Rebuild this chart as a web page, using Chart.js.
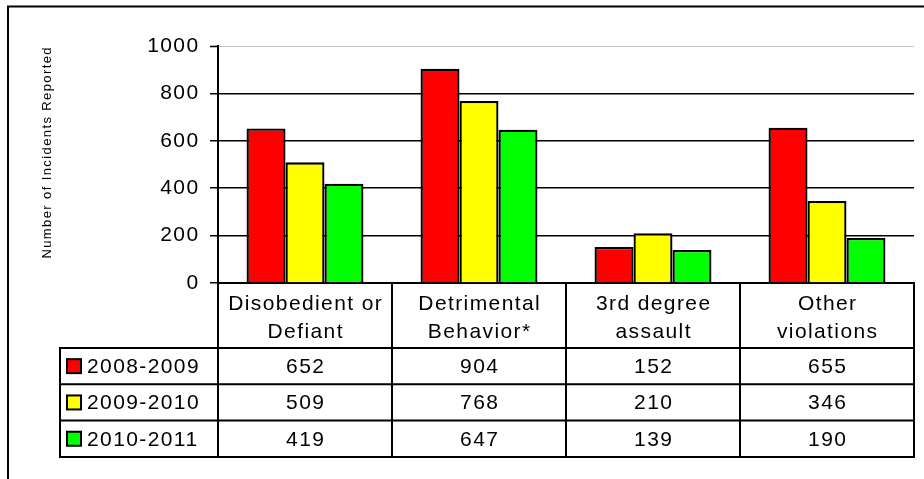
<!DOCTYPE html>
<html>
<head>
<meta charset="utf-8">
<title>Incidents Reported</title>
<script src="https://cdn.jsdelivr.net/npm/chart.js@4"></script>
<style>
  html, body { margin: 0; padding: 0; background: #fff; }
  canvas { display: block; }
</style>
</head>
<body>
<canvas id="chart" width="924" height="479"></canvas>
<script>
// Incident categories (each label split over two lines in the table header)
const categories = [
  ['Disobedient or', 'Defiant'],
  ['Detrimental', 'Behavior*'],
  ['3rd degree', 'assault'],
  ['Other', 'violations']
];

// School years
const seasons = ['2008-2009', '2009-2010', '2010-2011'];

// Number of incidents reported per category
const incidents2008 = [652, 904, 152, 655];
const incidents2009 = [509, 768, 210, 346];
const incidents2010 = [419, 647, 139, 190];

// Value axis
const yMin = 0;
const yMax = 1000;
const yStep = 200;
const yTitle = 'Number of Incidents Reported';

const seriesValues = [incidents2008, incidents2009, incidents2010];
const seriesColors = ['#ff0000', '#ffff00', '#00ff00'];

const FONT = '"Liberation Sans", Arial, Helvetica, sans-serif';
const SPACING = '1.4px';

// White page with the open frame line on the left and top
const framePlugin = {
  id: 'frame',
  beforeDraw(chart) {
    const ctx = chart.ctx;
    ctx.save();
    ctx.fillStyle = '#ffffff';
    ctx.fillRect(0, 0, chart.width, chart.height);
    ctx.strokeStyle = '#000000';
    ctx.lineWidth = 2;
    ctx.beginPath();
    ctx.moveTo(8, chart.height);
    ctx.lineTo(8, 6.5);
    ctx.lineTo(chart.width, 6.5);
    ctx.stroke();
    ctx.restore();
    ctx.letterSpacing = SPACING;
  }
};

// Data table under the plot: category headers, legend keys and values
const dataTablePlugin = {
  id: 'dataTable',
  afterDraw(chart) {
    const ctx = chart.ctx;
    const xs = chart.scales.x;
    const n = categories.length;
    const colW = (xs.right - xs.left) / n;
    const top = chart.chartArea.bottom;
    const headerH = 65;
    const rowH = 36.3;
    const legendLeft = 60;
    const bottom = top + headerH + rowH * seasons.length;

    ctx.save();
    ctx.letterSpacing = SPACING;
    ctx.strokeStyle = '#000000';
    ctx.lineWidth = 2;
    ctx.beginPath();
    for (let i = 0; i <= n; i++) {
      const x = xs.left + i * colW;
      ctx.moveTo(x, top);
      ctx.lineTo(x, bottom);
    }
    ctx.moveTo(legendLeft, top + headerH);
    ctx.lineTo(legendLeft, bottom);
    for (let r = 0; r <= seasons.length; r++) {
      const y = top + headerH + r * rowH;
      ctx.moveTo(legendLeft - 1, y);
      ctx.lineTo(xs.right + 1, y);
    }
    ctx.stroke();

    ctx.fillStyle = '#000000';
    ctx.font = '21px ' + FONT;
    ctx.textAlign = 'center';
    ctx.textBaseline = 'middle';

    // Header cells
    categories.forEach((lines, i) => {
      const cx = xs.left + (i + 0.5) * colW + 0.7;
      ctx.fillText(lines[0], cx, top + 21.5);
      ctx.fillText(lines[1], cx, top + 49);
    });

    // Value rows with legend keys
    seasons.forEach((season, r) => {
      const cy = top + headerH + (r + 0.5) * rowH;
      ctx.fillStyle = seriesColors[r];
      ctx.fillRect(67, cy - 7, 14, 14);
      ctx.strokeStyle = '#000000';
      ctx.lineWidth = 2;
      ctx.strokeRect(67, cy - 7, 14, 14);
      ctx.fillStyle = '#000000';
      ctx.textAlign = 'left';
      ctx.fillText(season, 87, cy + 1);
      ctx.textAlign = 'center';
      seriesValues[r].forEach((v, i) => {
        const cx = xs.left + (i + 0.5) * colW + 0.7;
        ctx.fillText(String(v), cx, cy + 1);
      });
    });
    ctx.restore();
  }
};

const chart = new Chart(document.getElementById('chart'), {
  type: 'bar',
  data: {
    labels: categories,
    datasets: seasons.map((season, i) => ({
      label: season,
      data: seriesValues[i],
      backgroundColor: seriesColors[i],
      borderColor: '#000000',
      borderWidth: 2.3,
      borderSkipped: 'start'
    }))
  },
  options: {
    responsive: false,
    animation: false,
    devicePixelRatio: 1,
    layout: { padding: { top: 46, right: 10, bottom: 196, left: 40 } },
    datasets: {
      bar: { barPercentage: 1, categoryPercentage: 0.672 }
    },
    plugins: {
      legend: { display: false },
      tooltip: { enabled: false },
      title: { display: false }
    },
    scales: {
      x: {
        ticks: { display: false },
        grid: { display: false, drawTicks: false },
        border: { display: true, color: '#000000', width: 2 },
        afterFit(scale) { scale.height = 0; }
      },
      y: {
        min: yMin,
        max: yMax,
        ticks: {
          stepSize: yStep,
          color: '#000000',
          padding: 10.5,
          font: { family: FONT, size: 21 },
          callback: (value) => String(value)
        },
        grid: {
          color: (ctx) => (ctx.tick && ctx.tick.value === yMax ? '#c8c8c8' : '#000000'),
          lineWidth: (ctx) => (ctx.tick && ctx.tick.value === yMax ? 1 : 1.5),
          tickColor: '#000000',
          tickLength: 8,
          tickWidth: 1.5
        },
        border: { display: true, color: '#000000', width: 2 },
        title: {
          display: true,
          text: yTitle,
          color: '#000000',
          align: 'end',
          padding: { top: 0, bottom: 0 },
          font: { family: FONT, size: 13 }
        },
        afterFit(scale) { scale.width = 178; }
      }
    }
  },
  plugins: [framePlugin, dataTablePlugin]
});
</script>
</body>
</html>
